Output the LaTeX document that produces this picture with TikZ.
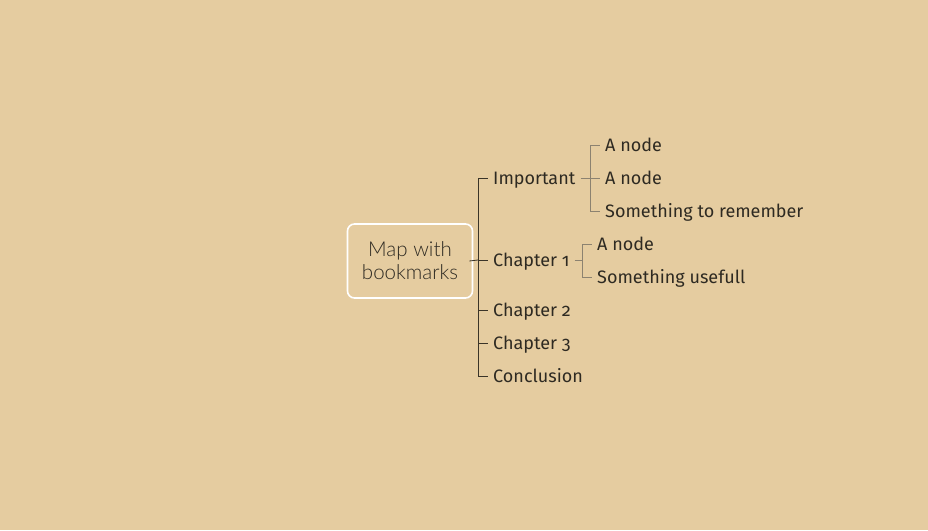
\documentclass[tikz,border=0pt]{standalone}
\usepackage{fontspec}
\setmainfont[Numbers=OldStyle]{Fira Sans}
\newfontfamily\rootfont{Lato Light}
\usetikzlibrary{positioning}
\definecolor{paper}{HTML}{E5CCA0}
\definecolor{ink}{HTML}{2E2A22}
\definecolor{trunkline}{HTML}{3A3428}
\definecolor{subline}{HTML}{8C8270}
\tikzset{
  topic/.style={anchor=west, inner xsep=5pt, inner ysep=2pt, text height=12.4pt, text depth=0pt, text=ink, font=\fontsize{18}{20}\selectfont},
  mainbox/.style={draw=white, line width=1.6pt, rounded corners=7pt, minimum width=125pt, minimum height=74pt, align=center, text=ink, font=\rootfont\fontsize{20.5}{23}\selectfont},
  trunk/.style={draw=trunkline, line width=0.8pt},
  twig/.style={draw=subline, line width=0.8pt}
}
\begin{document}
\begin{tikzpicture}[x=1pt, y=-1pt]
			%%%%% START %%%%%
			
			\fill[paper] (0, 0) rectangle (928, 530);
			\useasboundingbox (0, 0) rectangle (928, 530);
			
			\node[mainbox] (root) at (410, 261) {Map with\\bookmarks};
			
			\node[topic] (imp) at (488, 178) {Important};
			\node[topic] (ch1) at (488, 260) {Chapter 1};
			\node[topic] (ch2) at (488, 310) {Chapter 2};
			\node[topic] (ch3) at (488, 343) {Chapter 3};
			\node[topic] (concl) at (488, 376) {Conclusion};
			
			\coordinate (j0) at (478, 260);
			\draw[trunk] (root.east) ++(-4, 0) -- (j0);
			\draw[trunk] (j0) |- (imp.west);
			\draw[trunk] (j0) |- (concl.west);
			\draw[trunk] (j0) -- (ch1.west);
			\draw[trunk] (j0) |- (ch2.west);
			\draw[trunk] (j0) |- (ch3.west);
			
			\node[topic] (impA) at (600, 145) {A node};
			\node[topic] (impB) at (600, 178) {A node};
			\node[topic] (impC) at (600, 211) {Something to remember};
			
			\coordinate (j1) at (590, 178);
			\draw[twig] (imp.east) -- (j1);
			\draw[twig] (j1) |- (impA.west);
			\draw[twig] (j1) -- (impB.west);
			\draw[twig] (j1) |- (impC.west);
			
			\node[topic] (chA) at (592, 244) {A node};
			\node[topic] (chB) at (592, 277) {Something usefull};
			
			\coordinate (j2) at (582, 260);
			\draw[twig] (ch1.east) -- (j2);
			\draw[twig] (j2) |- (chA.west);
			\draw[twig] (j2) |- (chB.west);
			
			%%%%% END %%%%%
		\end{tikzpicture}
\end{document}
